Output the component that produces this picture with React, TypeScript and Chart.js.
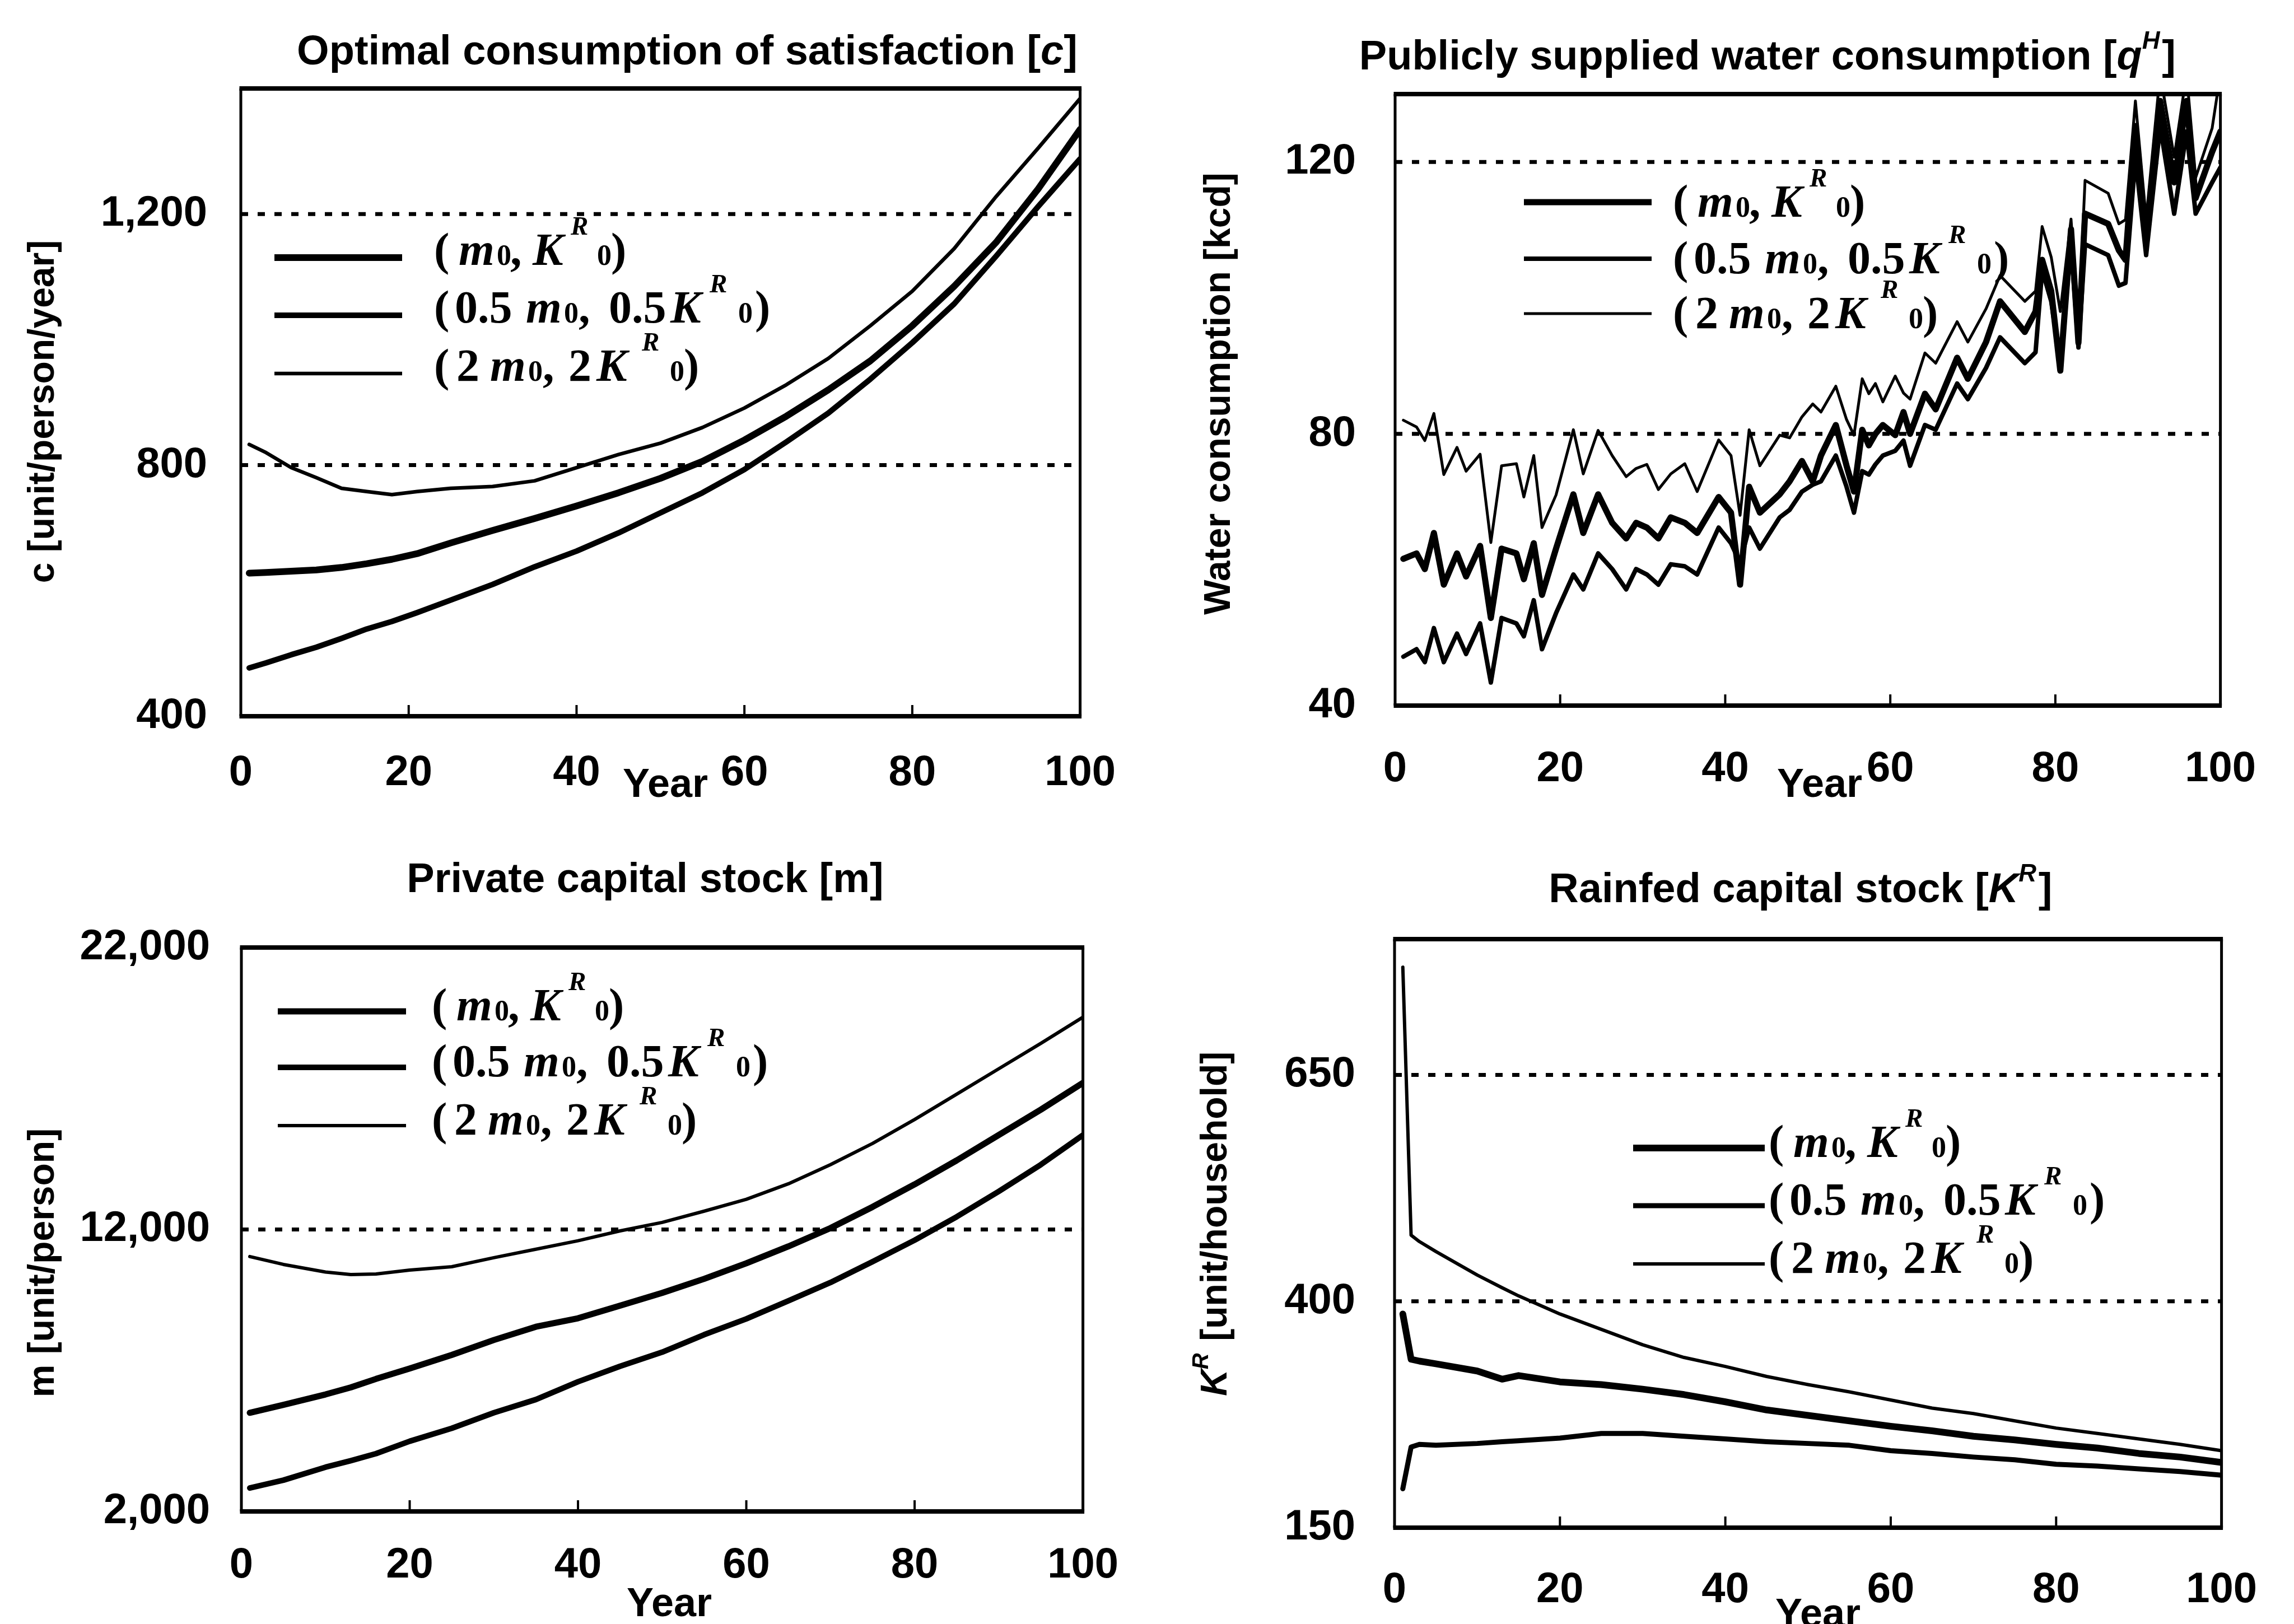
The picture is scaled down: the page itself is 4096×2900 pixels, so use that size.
import React, { useEffect, useRef } from "react";
import { Chart, registerables } from "chart.js";

Chart.register(...registerables);

// ---------------- data ----------------
const X_TICKS = [0, 20, 40, 60, 80, 100];
const SERIES_LABELS = ["(m0, K^R0)", "(0.5 m0, 0.5 K^R0)", "(2 m0, 2 K^R0)"];

// Panel 1: optimal consumption c
const C_YEARS = [1, 3, 6, 9, 12, 15, 18, 21, 25, 30, 35, 40, 45, 50, 55, 60, 65, 70, 75, 80, 85, 90, 95, 100];
const C_M0 = [628, 629, 631, 633, 637, 643, 650, 659, 676, 696, 715, 735, 756, 779, 806, 840, 878, 920, 966, 1022, 1085, 1155, 1240, 1335];
const C_HALF = [477, 485, 498, 510, 524, 539, 551, 565, 585, 610, 638, 663, 692, 724, 756, 793, 837, 883, 937, 995, 1057, 1133, 1212, 1288];
const C_DOUBLE = [833, 820, 796, 780, 763, 758, 753, 758, 763, 766, 775, 796, 817, 835, 860, 891, 928, 970, 1022, 1077, 1145, 1228, 1305, 1384];
const C_TICKS = [400, 800, 1200];
const C_GRID = [800, 1200];

// Panel 2: publicly supplied water consumption qH
const Q_YEARS = [1, 2.6, 3.6, 4.7, 5.9, 7.5, 8.6, 10.3, 11.6, 12.9, 14.7, 15.6, 16.8, 17.8, 19.5, 21.6, 22.8, 24.6, 26.3, 28, 29.2, 30.5, 31.9, 33.4, 35.1, 36.6, 39.2, 40.7, 41.8, 42.9, 44.2, 46.6, 47.8, 49.3, 50.6, 51.6, 53.4, 54.7, 55.6, 56.6, 57.4, 58.2, 59.1, 60.6, 61.6, 62.4, 64.2, 65.5, 68.1, 69.4, 71.6, 73.3, 76.3, 77.6, 78.4, 79.5, 80.6, 81.9, 82.8, 83.6, 86.4, 87.7, 88.5, 89.7, 91, 92.7, 94.4, 95.9, 97, 99, 100];
const Q_M0 = [61.6, 62.4, 60.1, 65.4, 57.8, 62.4, 59, 63.5, 52.9, 63.1, 62.4, 58.6, 63.9, 56.3, 63.1, 71.1, 65.4, 71.1, 66.9, 64.6, 66.9, 66.2, 64.6, 67.7, 66.9, 65.4, 70.7, 68.4, 57.8, 72.2, 68.4, 71.1, 73, 76, 73, 76.8, 81.3, 75.3, 71.5, 80.6, 78.3, 80, 81.3, 79.8, 83.2, 80, 85.9, 83.6, 91.2, 88.1, 93.5, 99.5, 95, 98, 105.6, 101, 89.3, 110.1, 93.4, 112.4, 110.9, 107, 105.6, 125.3, 108.6, 129, 117, 129, 114.7, 121.5, 124.5];
const Q_HALF = [47.2, 48.3, 46.4, 51.4, 46.4, 50.6, 47.6, 52.1, 43.4, 52.9, 52.1, 50.2, 55.5, 48.3, 53.6, 59.3, 57.1, 62.4, 60.1, 57.1, 60.1, 59.3, 57.8, 60.8, 60.5, 59.3, 66.2, 63.9, 61, 66.2, 63.1, 67.7, 68.8, 71.5, 72.5, 73, 76.8, 72.2, 68.4, 74.5, 74, 75.5, 76.8, 77.5, 79, 75.3, 81.3, 80.6, 87.4, 85.1, 89.7, 94.2, 90.4, 92, 104.1, 99.5, 90.4, 107.9, 92.7, 107.9, 106.3, 101.8, 102.2, 120.7, 106.3, 125.3, 112.4, 124.5, 112.4, 117, 119.2];
const Q_DOUBLE = [82, 81, 79, 83, 74, 78, 74.5, 77, 64, 75.3, 75.6, 70.7, 76.8, 66.2, 71, 80.6, 74.1, 80.5, 76.8, 73.7, 74.9, 75.5, 71.8, 74.1, 75.6, 71.5, 79.1, 76.8, 68, 80.6, 75.3, 79.8, 79.4, 82.5, 84.4, 83.2, 87, 82.1, 79.8, 88.1, 85.9, 87.4, 84.7, 88.5, 86, 85.1, 91.9, 90.4, 96.5, 93.5, 98.4, 103.3, 99.5, 101, 110.5, 106, 98, 111.6, 96, 117.3, 115.4, 110.9, 111.5, 129, 111.6, 133, 120.7, 133, 117.7, 125, 133];
const Q_TICKS = [40, 80, 120];
const Q_GRID = [80, 120];

// Panel 3: private capital stock m
const M_YEARS = [1, 5, 10, 13, 16, 20, 25, 30, 35, 40, 45, 50, 55, 60, 65, 70, 75, 80, 85, 90, 95, 100];
const M_M0 = [5500, 5780, 6150, 6400, 6700, 7070, 7550, 8080, 8550, 8850, 9300, 9750, 10250, 10800, 11400, 12050, 12800, 13600, 14450, 15350, 16250, 17200];
const M_HALF = [2830, 3110, 3570, 3800, 4050, 4490, 4950, 5500, 5970, 6600, 7150, 7650, 8270, 8830, 9470, 10120, 10860, 11620, 12450, 13350, 14300, 15350];
const M_DOUBLE = [11040, 10760, 10490, 10400, 10420, 10560, 10680, 11000, 11300, 11600, 11950, 12250, 12650, 13070, 13620, 14300, 15050, 15900, 16800, 17700, 18600, 19530];
const M_TICKS = [2000, 12000, 22000];
const M_GRID = [12000];

// Panel 4: rainfed capital stock KR
const K_YEARS = [1, 2, 3, 5, 10, 13, 15, 20, 25, 30, 35, 40, 45, 50, 55, 60, 65, 70, 75, 80, 85, 90, 95, 100];
const K_M0 = [386, 336, 334, 331, 323, 314, 318, 311, 308, 303, 297, 289, 280, 274, 268, 262, 257, 251, 247, 242, 238, 232, 228, 222];
const K_HALF = [193, 239, 242, 241, 243, 245, 246, 249, 254, 254, 251, 248, 245, 243, 241, 235, 232, 228, 225, 220, 218, 215, 212, 208];
const K_DOUBLE = [769, 473, 466, 455, 429, 415, 406, 386, 369, 352, 338, 328, 317, 308, 300, 291, 282, 276, 268, 260, 254, 248, 242, 235];
const K_TICKS = [150, 400, 650];
const K_GRID = [400, 650];

// ---------------- text ----------------
type Seg = { t: string; it?: boolean; sup?: boolean };
const TITLE_C: Seg[] = [{ t: "Optimal consumption of satisfaction [" }, { t: "c", it: true }, { t: "]" }];
const TITLE_Q: Seg[] = [{ t: "Publicly supplied water consumption [" }, { t: "q", it: true }, { t: "H", it: true, sup: true }, { t: "]" }];
const TITLE_M: Seg[] = [{ t: "Private capital stock [m]" }];
const TITLE_K: Seg[] = [{ t: "Rainfed capital stock [" }, { t: "K", it: true }, { t: "R", it: true, sup: true }, { t: "]" }];
const YT_C: Seg[] = [{ t: "c [unit/person/year]" }];
const YT_Q: Seg[] = [{ t: "Water consumption [kcd]" }];
const YT_M: Seg[] = [{ t: "m [unit/person]" }];
const YT_K: Seg[] = [{ t: "K", it: true }, { t: "R", it: true, sup: true }, { t: " [unit/household]" }];
const X_TITLE: Seg[] = [{ t: "Year" }];

type Part = { t: string; k: "n" | "i" | "sub" | "sup" };
const LEGEND_PARTS: Part[][] = [
  [{ t: "(", k: "n" }, { t: "m", k: "i" }, { t: "0", k: "sub" }, { t: ",", k: "n" }, { t: "K", k: "i" }, { t: "R", k: "sup" }, { t: "0", k: "sub" }, { t: ")", k: "n" }],
  [{ t: "(", k: "n" }, { t: "0.5", k: "n" }, { t: "m", k: "i" }, { t: "0", k: "sub" }, { t: ",", k: "n" }, { t: "0.5", k: "n" }, { t: "K", k: "i" }, { t: "R", k: "sup" }, { t: "0", k: "sub" }, { t: ")", k: "n" }],
  [{ t: "(", k: "n" }, { t: "2", k: "n" }, { t: "m", k: "i" }, { t: "0", k: "sub" }, { t: ",", k: "n" }, { t: "2", k: "n" }, { t: "K", k: "i" }, { t: "R", k: "sup" }, { t: "0", k: "sub" }, { t: ")", k: "n" }],
];
// horizontal placement of each legend glyph group (px, relative to the text start)
const LEGEND_OFFSETS = [
  [0, 44, 112, 136, 176, 244, 291, 316],
  [0, 37, 164, 232, 258, 312, 422, 492, 543, 573],
  [0, 40, 100, 168, 194, 240, 290, 371, 421, 446],
];

// ---------------- layout / style ----------------
const SANS = '"Liberation Sans", Arial, Helvetica, sans-serif';
const SERIF = '"Liberation Serif", "Times New Roman", serif';
const TICK_FONT = { family: SANS, size: 76, weight: "bold" as const };

type PanelSpec = {
  id: string;
  cx: number; cy: number; cw: number; ch: number;
  area: { L: number; R: number; T: number; B: number };
  years: number[];
  series: number[][]; // order: m0, 0.5, 2
  widths: number[];
  yMin: number; yMax: number; yTicks: number[]; grid: number[];
  xPad: number; yPad: number;
  title: Seg[]; titlePos: [number, number];
  yTitle: Seg[]; yTitlePos: [number, number];
  xTitlePos: [number, number];
  legend: { l0: number; l1: number; tx: number; rows: number[]; base: number };
};

const PANELS: PanelSpec[] = [
  {
    id: "c", cx: 0, cy: 0, cw: 2048, ch: 1450,
    area: { L: 430, R: 1937, T: 158, B: 1279 },
    years: C_YEARS, series: [C_M0, C_HALF, C_DOUBLE], widths: [12, 10, 6.5],
    yMin: 400, yMax: 1400, yTicks: C_TICKS, grid: C_GRID, xPad: 56, yPad: 60,
    title: TITLE_C, titlePos: [1227, 88], yTitle: YT_C, yTitlePos: [72, 735], xTitlePos: [1188, 1397],
    legend: { l0: 60, l1: 288, tx: 345, rows: [302, 405, 509], base: 13 },
  },
  {
    id: "q", cx: 2048, cy: 0, cw: 2048, ch: 1450,
    area: { L: 443, R: 1963, T: 168, B: 1260 },
    years: Q_YEARS, series: [Q_M0, Q_HALF, Q_DOUBLE], widths: [11, 8, 5],
    yMin: 40, yMax: 130, yTicks: Q_TICKS, grid: Q_GRID, xPad: 68, yPad: 70,
    title: TITLE_Q, titlePos: [1106, 97], yTitle: YT_Q, yTitlePos: [124, 703], xTitlePos: [1201, 1397],
    legend: { l0: 230, l1: 458, tx: 496, rows: [193, 294, 392], base: 26 },
  },
  {
    id: "m", cx: 0, cy: 1450, cw: 2048, ch: 1450,
    area: { L: 431, R: 1952, T: 242, B: 1249 },
    years: M_YEARS, series: [M_M0, M_HALF, M_DOUBLE], widths: [11, 10, 6],
    yMin: 2000, yMax: 22000, yTicks: M_TICKS, grid: M_GRID, xPad: 51, yPad: 56,
    title: TITLE_M, titlePos: [1152, 116], yTitle: YT_M, yTitlePos: [72, 805], xTitlePos: [1195, 1410],
    legend: { l0: 65, l1: 294, tx: 340, rows: [114, 214, 318], base: 16 },
  },
  {
    id: "k", cx: 2048, cy: 1450, cw: 2048, ch: 1450,
    area: { L: 442, R: 1969, T: 227, B: 1278 },
    years: K_YEARS, series: [K_M0, K_HALF, K_DOUBLE], widths: [12, 9, 6],
    yMin: 150, yMax: 800, yTicks: K_TICKS, grid: K_GRID, xPad: 66, yPad: 70,
    title: TITLE_K, titlePos: [1165, 134], yTitle: YT_K, yTitlePos: [118, 737], xTitlePos: [1198, 1429],
    legend: { l0: 426, l1: 661, tx: 668, rows: [373, 476, 580], base: 16 },
  },
];

// ---------------- drawing helpers ----------------
function drawRich(ctx: CanvasRenderingContext2D, segs: Seg[], x: number, cy: number, size: number) {
  const fontFor = (s: Seg) => `${s.it ? "italic " : ""}bold ${s.sup ? Math.round(size * 0.6) : size}px ${SANS}`;
  let total = 0;
  const widths = segs.map((s) => {
    ctx.font = fontFor(s);
    const w = ctx.measureText(s.t).width;
    total += w;
    return w;
  });
  let px = x - total / 2;
  const base = cy + size * 0.36;
  ctx.textAlign = "left";
  ctx.textBaseline = "alphabetic";
  segs.forEach((s, i) => {
    ctx.font = fontFor(s);
    ctx.fillText(s.t, px, s.sup ? base - size * 0.5 : base);
    px += widths[i] + (s.sup ? size * 0.05 : 0);
  });
}

function makeDecor(p: PanelSpec) {
  return {
    id: "decor_" + p.id,
    beforeDatasetsDraw(chart: any) {
      const { ctx, chartArea: a } = chart;
      const ys = chart.scales.y;
      ctx.save();
      ctx.strokeStyle = "#000";
      ctx.lineWidth = 7;
      ctx.setLineDash([13, 17]);
      p.grid.forEach((v) => {
        const y = ys.getPixelForValue(v);
        ctx.beginPath();
        ctx.moveTo(a.left, y);
        ctx.lineTo(a.right, y);
        ctx.stroke();
      });
      ctx.restore();
    },
    afterDraw(chart: any) {
      const { ctx, chartArea: a } = chart;
      const xs = chart.scales.x;
      ctx.save();
      ctx.fillStyle = "#000";
      ctx.strokeStyle = "#000";
      // frame
      const hw = 8, vw = 5;
      ctx.fillRect(a.left - vw / 2, a.top - hw / 2, a.right - a.left + vw, hw);
      ctx.fillRect(a.left - vw / 2, a.bottom - hw / 2, a.right - a.left + vw, hw);
      ctx.fillRect(a.left - vw / 2, a.top, vw, a.bottom - a.top);
      ctx.fillRect(a.right - vw / 2, a.top, vw, a.bottom - a.top);
      // inner tick marks on the x axis
      X_TICKS.slice(1, -1).forEach((v) => {
        const x = xs.getPixelForValue(v);
        ctx.fillRect(x - 2, a.bottom - 20, 4, 20);
      });
      // titles
      drawRich(ctx, p.title, p.titlePos[0], p.titlePos[1], 74);
      drawRich(ctx, X_TITLE, p.xTitlePos[0], p.xTitlePos[1], 72);
      ctx.save();
      ctx.translate(p.yTitlePos[0], p.yTitlePos[1]);
      ctx.rotate(-Math.PI / 2);
      drawRich(ctx, p.yTitle, 0, 0, 66);
      ctx.restore();
      // legend
      const lg = p.legend;
      const fs = 82;
      LEGEND_PARTS.forEach((row, r) => {
        const y = a.top + lg.rows[r];
        ctx.lineWidth = p.widths[r];
        ctx.lineCap = "butt";
        ctx.beginPath();
        ctx.moveTo(a.left + lg.l0, y);
        ctx.lineTo(a.left + lg.l1, y);
        ctx.stroke();
        const bx = a.left + lg.tx;
        const by = y + lg.base;
        ctx.textAlign = "left";
        ctx.textBaseline = "alphabetic";
        row.forEach((part, j) => {
          const x = bx + LEGEND_OFFSETS[r][j];
          if (part.k === "sub") {
            ctx.font = `bold ${Math.round(fs * 0.64)}px ${SERIF}`;
            ctx.fillText(part.t, x, by);
          } else if (part.k === "sup") {
            ctx.font = `italic bold ${Math.round(fs * 0.57)}px ${SERIF}`;
            ctx.fillText(part.t, x, by - fs * 0.66);
          } else if (part.k === "i") {
            ctx.font = `italic bold ${fs}px ${SERIF}`;
            ctx.fillText(part.t, x, by);
          } else {
            ctx.font = `bold ${fs}px ${SERIF}`;
            ctx.fillText(part.t, x, by);
          }
        });
      });
      ctx.restore();
    },
  };
}

function buildConfig(p: PanelSpec): any {
  const toPts = (ys: number[]) => ys.map((y, i) => ({ x: p.years[i], y }));
  return {
    type: "line",
    data: {
      datasets: p.series.map((s, i) => ({
        label: SERIES_LABELS[i],
        data: toPts(s),
        borderColor: "#000",
        backgroundColor: "#000",
        borderWidth: p.widths[i],
        pointRadius: 0,
        tension: 0,
        fill: false,
        clip: 0,
        borderJoinStyle: "round",
        borderCapStyle: "round",
      })),
    },
    options: {
      responsive: false,
      animation: false,
      devicePixelRatio: 1,
      events: [],
      layout: {
        autoPadding: false,
        padding: { left: 0, top: p.area.T, right: p.cw - p.area.R, bottom: 0 },
      },
      plugins: { legend: { display: false }, tooltip: { enabled: false }, title: { display: false } },
      scales: {
        x: {
          type: "linear",
          min: 0,
          max: 100,
          afterBuildTicks: (s: any) => {
            s.ticks = X_TICKS.map((v) => ({ value: v }));
          },
          afterFit: (s: any) => {
            s.height = p.ch - p.area.B;
          },
          grid: { display: false, drawTicks: false },
          border: { display: false },
          ticks: { padding: p.xPad, font: TICK_FONT, color: "#000", maxRotation: 0, autoSkip: false },
        },
        y: {
          type: "linear",
          min: p.yMin,
          max: p.yMax,
          afterBuildTicks: (s: any) => {
            s.ticks = p.yTicks.map((v) => ({ value: v }));
          },
          afterFit: (s: any) => {
            s.width = p.area.L;
          },
          grid: { display: false, drawTicks: false },
          border: { display: false },
          ticks: {
            padding: p.yPad,
            font: TICK_FONT,
            color: "#000",
            autoSkip: false,
            callback: (v: any) => Number(v).toLocaleString("en-US"),
          },
        },
      },
    },
    plugins: [makeDecor(p)],
  };
}

function Panel({ spec }: { spec: PanelSpec }) {
  const ref = useRef<HTMLCanvasElement>(null);
  useEffect(() => {
    const chart = new Chart(ref.current as HTMLCanvasElement, buildConfig(spec));
    return () => chart.destroy();
  }, [spec]);
  return (
    <canvas
      ref={ref}
      width={spec.cw}
      height={spec.ch}
      style={{ position: "absolute", left: spec.cx, top: spec.cy, width: spec.cw, height: spec.ch }}
    />
  );
}

export default function App() {
  return (
    <div style={{ position: "absolute", left: 0, top: 0, width: 4096, height: 2900, background: "#fff", overflow: "hidden" }}>
      {PANELS.map((p) => (
        <Panel key={p.id} spec={p} />
      ))}
    </div>
  );
}
